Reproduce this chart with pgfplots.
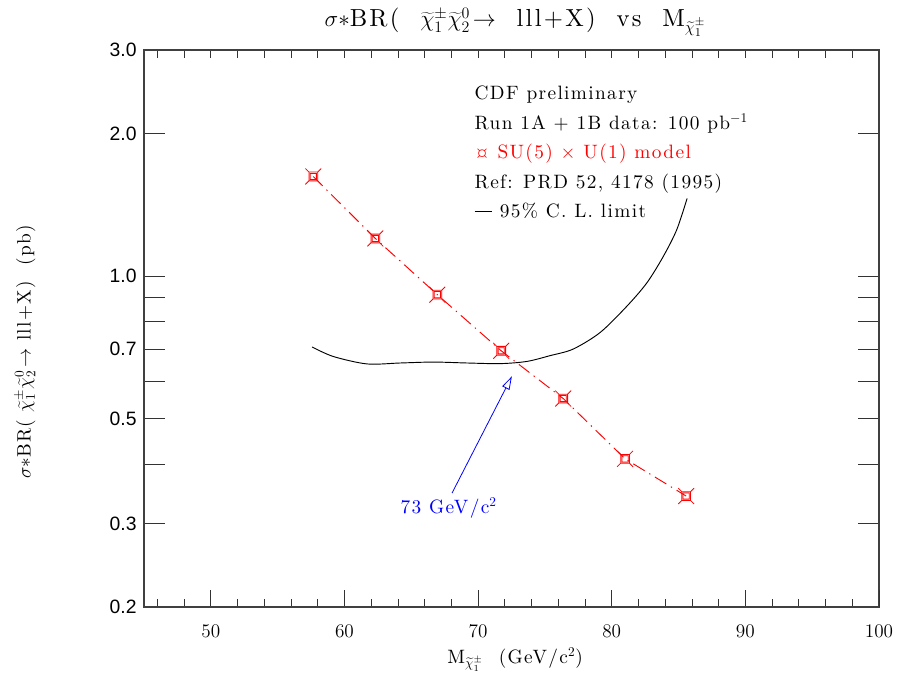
\documentclass[border=0pt]{standalone}
\usepackage{fontspec}
\newfontfamily\sansnum{Liberation Sans}
\newfontfamily\lmwide{lmroman10-regular.otf}[LetterSpace=7]
\newfontfamily\lmtitle{lmroman10-regular.otf}[LetterSpace=9]
\usepackage{pgfplots}
\pgfplotsset{compat=1.18}
\usetikzlibrary{arrows.meta}

% square with corner spikes, as in the CDF plot
\pgfdeclareplotmark{sqx}{%
  \pgfpathrectangle{\pgfqpoint{-\pgfplotmarksize}{-\pgfplotmarksize}}{\pgfqpoint{2\pgfplotmarksize}{2\pgfplotmarksize}}%
  \pgfpathrectangle{\pgfqpoint{-0.7\pgfplotmarksize}{-0.7\pgfplotmarksize}}{\pgfqpoint{1.4\pgfplotmarksize}{1.4\pgfplotmarksize}}%
  \pgfpathmoveto{\pgfqpoint{\pgfplotmarksize}{\pgfplotmarksize}}\pgfpathlineto{\pgfqpoint{1.8\pgfplotmarksize}{1.8\pgfplotmarksize}}%
  \pgfpathmoveto{\pgfqpoint{-\pgfplotmarksize}{\pgfplotmarksize}}\pgfpathlineto{\pgfqpoint{-1.8\pgfplotmarksize}{1.8\pgfplotmarksize}}%
  \pgfpathmoveto{\pgfqpoint{\pgfplotmarksize}{-\pgfplotmarksize}}\pgfpathlineto{\pgfqpoint{1.8\pgfplotmarksize}{-1.8\pgfplotmarksize}}%
  \pgfpathmoveto{\pgfqpoint{-\pgfplotmarksize}{-\pgfplotmarksize}}\pgfpathlineto{\pgfqpoint{-1.8\pgfplotmarksize}{-1.8\pgfplotmarksize}}%
  \pgfusepathqstroke}

\newcommand\txt{\lmwide\fontsize{14.5}{17}\selectfont}
\newcommand\chipm{\widetilde{\chi}^{\pm}_1}

\pgfplotsset{
  frame/.style={
    width=551.25pt, height=417.75pt, scale only axis,
    xmin=45, xmax=100,
    axis line style={line width=0.8pt, black!75},
    every tick/.style={black!80, line width=0.6pt},
    tick align=inside,
  },
}

\begin{document}
\begin{tikzpicture}
\begin{axis}[
    frame,
    ymode=log, ymin=0.2, ymax=3,
    xtick=\empty,
    major tick length=16pt,
    ytick={0.2,0.3,0.4,0.5,0.6,0.7,0.8,0.9,1,2,3},
    yticklabels={0.2,0.3,,0.5,,0.7,,,1.0,2.0,3.0},
    yticklabel style={font=\sansnum\fontsize{14.5}{16}\selectfont, xshift=-2pt},
    clip=false,
]
% 95% C.L. limit
\addplot[black, line width=0.7pt, smooth, tension=0.5] coordinates {
    (57.58,0.708) (59.17,0.676) (61.69,0.652) (64.18,0.655) (66.65,0.658)
    (69.17,0.655) (71.66,0.653) (73.65,0.660) (75.40,0.679) (77.12,0.701)
    (79.14,0.760) (81.13,0.863) (82.63,0.967) (83.87,1.101) (84.87,1.253)
    (85.64,1.458)
};
% SU(5) x U(1) model
\addplot[red, line width=0.7pt, dash pattern=on 10pt off 4pt on 1pt off 4pt,
    mark=sqx, mark size=3.3pt, mark options={solid, line width=0.6pt}] coordinates {
    (57.67,1.622) (62.31,1.200) (66.95,0.913) (71.73,0.695)
    (76.37,0.551) (81.00,0.411) (85.57,0.343)
};

\draw[blue, line width=0.6pt, -{Triangle[open, length=10pt, width=6pt]}]
    (axis cs:68.05,0.348) -- (axis cs:72.53,0.614);
\node[blue] at (axis cs:67.8,0.323) {\txt 73 GeV/c$^2$};

\node[anchor=base west] at (rel axis cs:0.4435,0.912) {\txt CDF preliminary};
\node[anchor=base west] at (rel axis cs:0.4435,0.858) {\txt Run 1A + 1B data: 100 pb$^{-1}$};
\node[anchor=base west, red] at (rel axis cs:0.4435,0.806) {\txt ¤ SU(5) $\times$ U(1) model};
\node[anchor=base west] at (rel axis cs:0.4435,0.752) {\txt Ref: PRD 52, 4178 (1995)};
\node[anchor=base west] at (rel axis cs:0.4435,0.700) {\txt \rule[0.3em]{0.9em}{0.5pt}\ 95\% C. L. limit};

\node[anchor=base] at ([yshift=17.5pt]rel axis cs:0.505,1)
    {\lmtitle\fontsize{18.5}{20}\selectfont$\sigma{*}$BR(\ \ $\chipm\widetilde{\chi}^0_2\!\rightarrow$\ \ lll+X)\ \ vs\ \ M$_{\chipm}$};
\node[rotate=90] at ([xshift=-89pt]rel axis cs:0,0.458)
    {\txt $\sigma{*}$BR(\ $\chipm\widetilde{\chi}^0_2\!\rightarrow$\ lll+X)\ \ (pb)};
\node[anchor=base] at ([yshift=-42pt]rel axis cs:0.505,0)
    {\txt M$_{\chipm}$\ \ (GeV/c$^2$)};
\end{axis}
% bottom axis ticks
\begin{axis}[
    frame, ymin=0, ymax=1,
    axis x line*=bottom, axis y line=none,
    xtick={50,60,...,100},
    minor xtick={46,48,...,98},
    major tick length=13pt,
    minor tick length=6pt,
    xticklabel style={font=\fontsize{15}{17}\selectfont, yshift=-10pt},
]
\end{axis}
% top axis: short ticks every 2 GeV
\begin{axis}[
    frame, ymin=0, ymax=1,
    axis x line*=top, axis y line=none,
    xtick={46,48,...,98}, xticklabels={},
    major tick length=6pt,
]
\end{axis}
\pgfresetboundingbox
\path (-108pt,-52.5pt) rectangle (566.25pt,455.25pt);
\end{tikzpicture}
\end{document}
